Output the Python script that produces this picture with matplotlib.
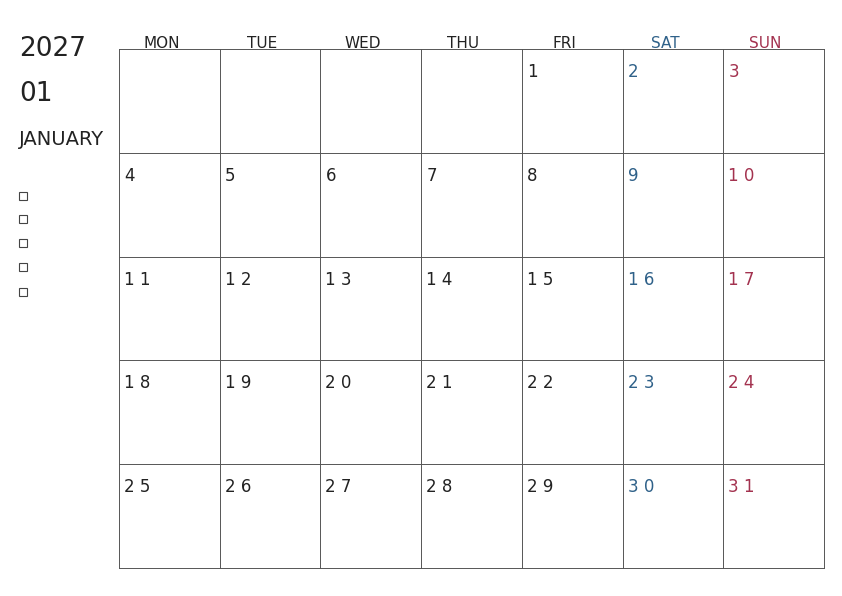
import matplotlib.pyplot as plt
import numpy as np

year_label = "2027"
month_num = "01"
month_name = "JANUARY"
weekdays = ["MON", "TUE", "WED", "THU", "FRI", "SAT", "SUN"]
first_weekday = 4  # Friday
n_days = 31
n_rows = 5

RED = "#a3324f"
BLUE = "#2f6189"
INK = "#222222"

plt.rcParams['font.family'] = ['Liberation Sans Narrow', 'DejaVu Sans']

fig = plt.figure(figsize=(8.42, 5.96), dpi=100)
ax = fig.add_axes([0, 0, 1, 1])
ax.set_xlim(0, 842)
ax.set_ylim(596, 0)
ax.axis('off')

x0, x1 = 119, 824
y0, y1 = 49, 568
cw = (x1 - x0) / 7
rh = (y1 - y0) / n_rows

# grid
for i in range(8):
    ax.plot([x0 + i * cw] * 2, [y0, y1], color='#555555', lw=0.7)
for j in range(n_rows + 1):
    ax.plot([x0, x1], [y0 + j * rh] * 2, color='#555555', lw=0.7)

# headers
for i, wd in enumerate(weekdays):
    col = BLUE if i == 5 else RED if i == 6 else INK
    ax.text(x0 + (i + 0.42) * cw, 48, wd, color=col, fontsize=11,
            ha='center', va='baseline')

# days
for d in range(1, n_days + 1):
    k = first_weekday + d - 1
    r, c = divmod(k, 7)
    col = BLUE if c == 5 else RED if c == 6 else INK
    ax.text(x0 + c * cw + 5, y0 + r * rh + 28, " ".join(str(d)), color=col,
            fontsize=12, ha='left', va='baseline')

# left title
ax.text(19, 56, year_label, fontsize=19, color=INK, va='baseline')
ax.text(19, 101, month_num, fontsize=19, color=INK, va='baseline')
ax.text(19, 145, month_name, fontsize=14, color=INK, va='baseline')

for yy in [196, 219, 243, 267, 292]:
    ax.add_patch(plt.Rectangle((19, yy - 4), 8, 8, fill=False, ec='#444444', lw=0.8))

fig.savefig("out.png", dpi=100, facecolor='white')
